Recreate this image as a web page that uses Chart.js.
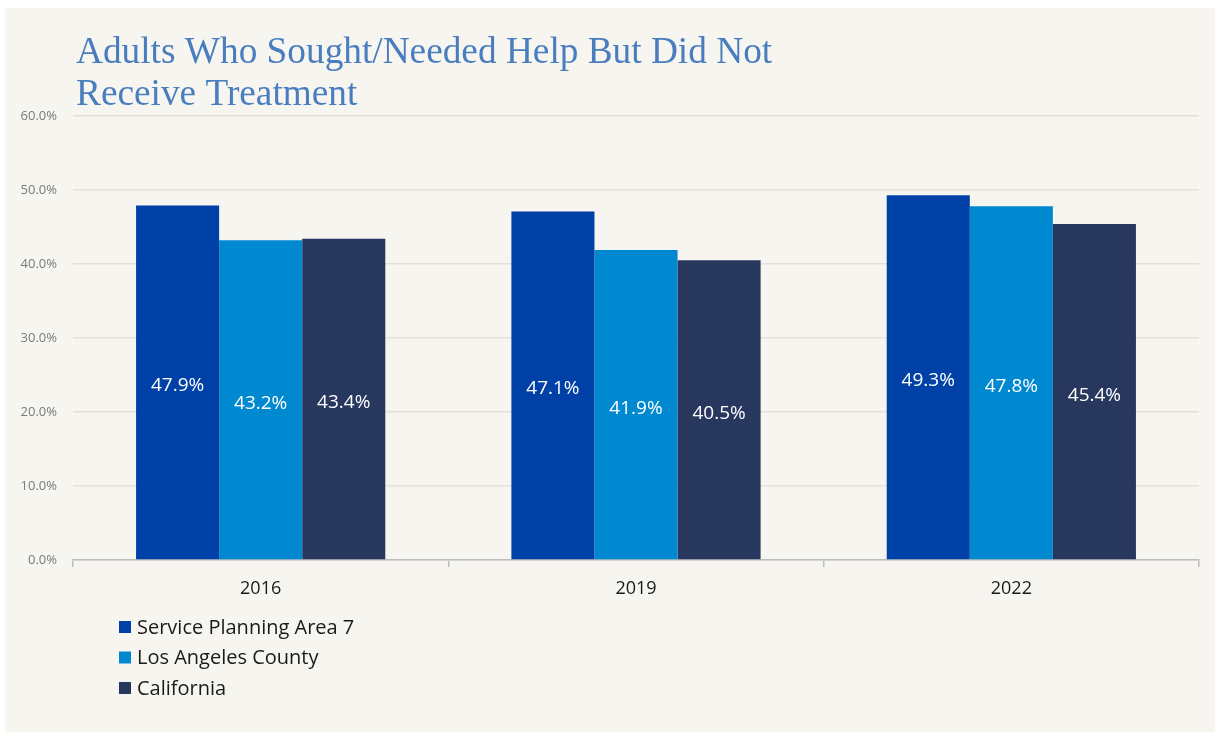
<!DOCTYPE html>
<html>
<head>
<meta charset="utf-8">
<script src="https://cdn.jsdelivr.net/npm/chart.js@4.4.1/dist/chart.umd.min.js"></script>
<style>
  html, body { margin: 0; padding: 0; background: #ffffff; }
  #wrap { position: relative; width: 1215px; height: 732px; }
  canvas { display: block; }
</style>
</head>
<body>
<div id="wrap"><canvas id="chart" width="1215" height="732"></canvas></div>
<script>
// Chart content
const titleLines = ['Adults Who Sought/Needed Help But Did Not', 'Receive Treatment'];
const years = ['2016', '2019', '2022'];
const seriesNames = ['Service Planning Area 7', 'Los Angeles County', 'California'];
const spa7 = [47.9, 47.1, 49.3];
const laCounty = [43.2, 41.9, 47.8];
const california = [43.4, 40.5, 45.4];
const yTicks = [0, 10, 20, 30, 40, 50, 60];

const seriesColors = ['#0041a8', '#0088d1', '#27375e'];
const bgColor = '#f6f5ef';

// Page panel behind the chart
const panelPlugin = {
  id: 'panel',
  beforeDraw(chart) {
    const ctx = chart.ctx;
    ctx.save();
    ctx.fillStyle = '#ffffff';
    ctx.fillRect(0, 0, chart.width, chart.height);
    ctx.fillStyle = bgColor;
    ctx.fillRect(5, 8, chart.width - 5, chart.height - 8);
    ctx.restore();
  }
};

// Two-line serif heading, left-aligned over the plot
const headingPlugin = {
  id: 'heading',
  afterDraw(chart) {
    const ctx = chart.ctx;
    ctx.save();
    ctx.fillStyle = '#4a7dbf';
    ctx.font = '37.3px "Liberation Serif", serif';
    ctx.textAlign = 'left';
    ctx.textBaseline = 'alphabetic';
    titleLines.forEach((line, i) => ctx.fillText(line, 76, 63 + i * 42));
    ctx.restore();
  }
};

// Value labels centred inside each bar
const valueLabelPlugin = {
  id: 'valueLabels',
  afterDatasetsDraw(chart) {
    const ctx = chart.ctx;
    ctx.save();
    ctx.fillStyle = '#ffffff';
    ctx.font = '19px "Open Sans", sans-serif';
    ctx.textAlign = 'center';
    ctx.textBaseline = 'middle';
    chart.data.datasets.forEach((ds, di) => {
      const meta = chart.getDatasetMeta(di);
      meta.data.forEach((bar, i) => {
        const { x, y, base } = bar.getProps(['x', 'y', 'base'], true);
        ctx.fillText(ds.data[i].toFixed(1) + '%', x, (y + base) / 2 + 3.5);
      });
    });
    ctx.restore();
  }
};

// Stacked legend below the axis
const stackedLegendPlugin = {
  id: 'stackedLegend',
  afterDraw(chart) {
    const ctx = chart.ctx;
    ctx.save();
    ctx.font = '20px "Open Sans", sans-serif';
    ctx.textAlign = 'left';
    ctx.textBaseline = 'middle';
    chart.data.datasets.forEach((ds, i) => {
      const cy = 627 + i * 30.5;
      ctx.fillStyle = ds.backgroundColor;
      ctx.fillRect(119, cy - 6, 12, 12);
      ctx.fillStyle = '#1a1a1a';
      ctx.fillText(ds.label, 137, cy + 1);
    });
    ctx.restore();
  }
};

const seriesValues = [spa7, laCounty, california];

new Chart(document.getElementById('chart'), {
  type: 'bar',
  data: {
    labels: years,
    datasets: seriesNames.map((name, i) => ({
      label: name,
      data: seriesValues[i],
      backgroundColor: seriesColors[i],
      borderWidth: 0,
      categoryPercentage: 0.664,
      barPercentage: 1.0
    }))
  },
  options: {
    responsive: false,
    animation: false,
    layout: { padding: { left: 0, right: 16, top: 116, bottom: 132 } },
    plugins: {
      legend: { display: false },
      title: { display: false },
      tooltip: { enabled: false }
    },
    scales: {
      x: {
        afterFit(scale) { scale.height = 40; },
        border: { display: true, color: '#bdbdbd', width: 1.5 },
        grid: {
          offset: true,
          drawOnChartArea: false,
          drawTicks: true,
          tickLength: 7,
          color: '#bdbdbd',
          lineWidth: 1.5
        },
        ticks: {
          color: '#1a1a1a',
          font: { family: 'Open Sans', size: 18 },
          padding: 11
        }
      },
      y: {
        min: 0,
        max: 60,
        afterFit(scale) { scale.width = 73; },
        afterBuildTicks(scale) { scale.ticks = yTicks.map(v => ({ value: v })); },
        border: { display: false },
        grid: { color: '#e2e1dc', lineWidth: 1.5, drawTicks: false },
        ticks: {
          color: '#7a7a7a',
          font: { family: 'Open Sans', size: 13 },
          padding: 16,
          callback: v => v.toFixed(1) + '%'
        }
      }
    }
  },
  plugins: [panelPlugin, headingPlugin, valueLabelPlugin, stackedLegendPlugin]
});
</script>
</body>
</html>
